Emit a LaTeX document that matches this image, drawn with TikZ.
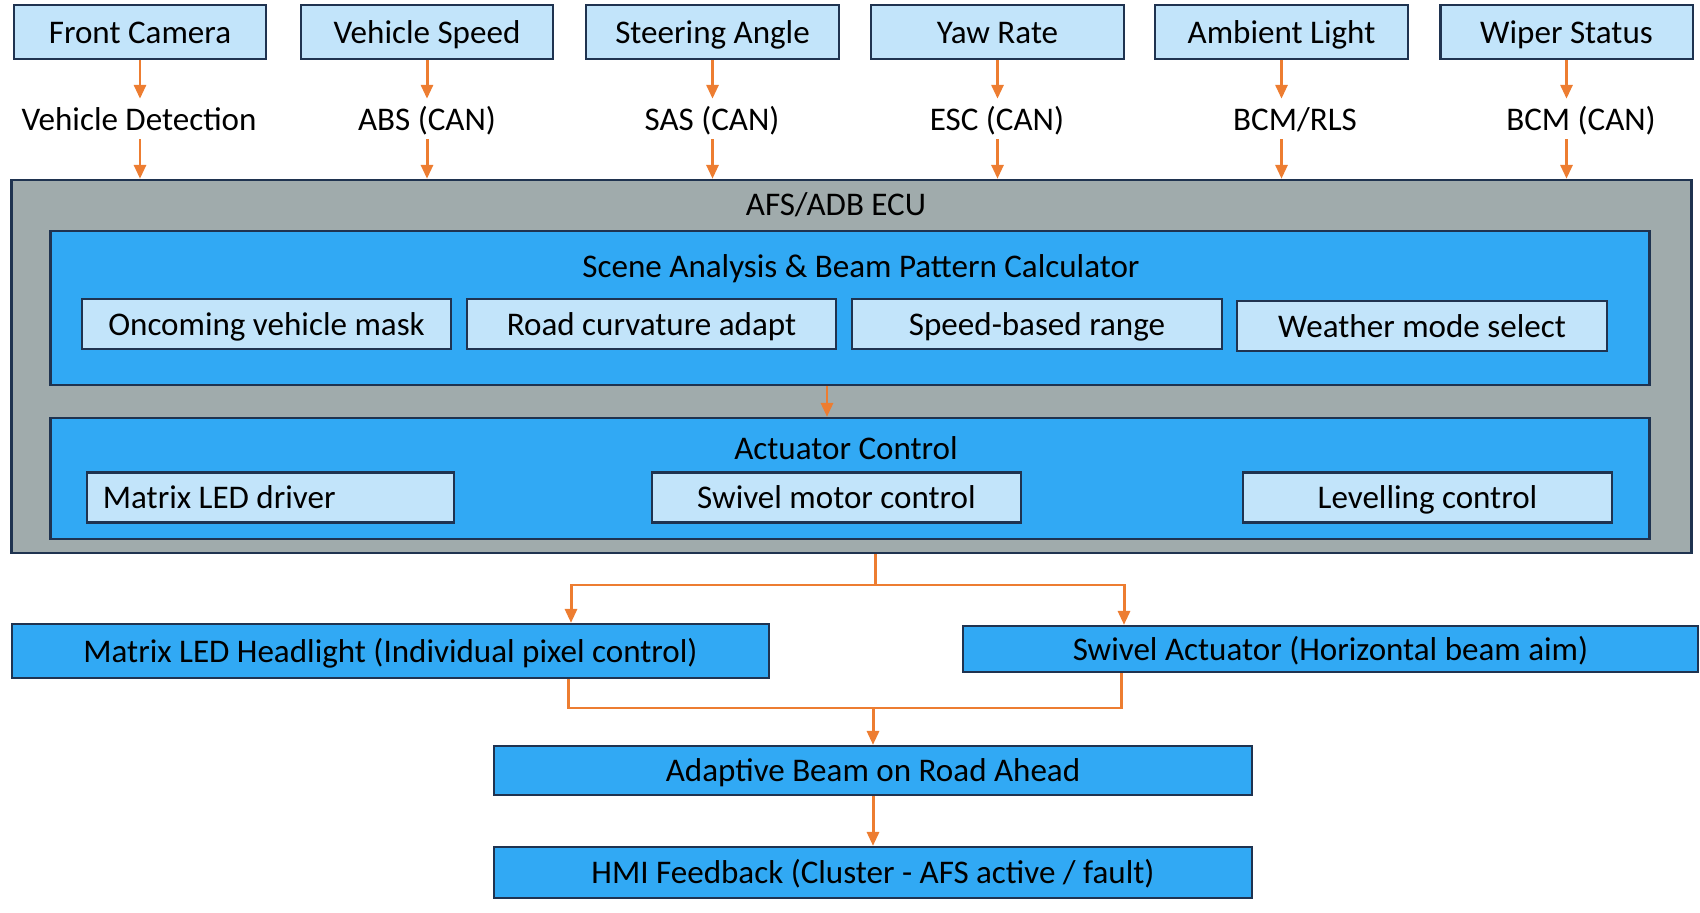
\documentclass[tikz,border=0pt]{standalone}
\usepackage{fontspec}
\setmainfont{Carlito}
\usetikzlibrary{arrows.meta, positioning, calc}
\definecolor{srcblue}{HTML}{C2E4FA}
\definecolor{midblue}{HTML}{31A9F4}
\definecolor{ecugray}{HTML}{A0ABAC}
\definecolor{edgenavy}{HTML}{1F3350}
\definecolor{flow}{HTML}{ED7D31}

\begin{document}
\begin{tikzpicture}[
  x=0.01cm, y=-0.01cm,
  txt/.style={font=\fontsize{9.4}{11}\selectfont, text=black, text height=8.4pt, text depth=2pt},
  src/.style={rectangle, draw=edgenavy, line width=0.6pt, fill=srcblue, minimum width=25.2mm, minimum height=5.4mm, inner sep=0pt, txt},
  bus/.style={rectangle, minimum height=3.9mm, inner sep=0pt, txt},
  ecu/.style={rectangle, draw=edgenavy, line width=0.6pt, fill=ecugray, inner sep=0pt},
  stage/.style={rectangle, draw=edgenavy, line width=0.6pt, fill=midblue, inner sep=0pt},
  func/.style={rectangle, draw=edgenavy, line width=0.6pt, fill=srcblue, minimum width=36.9mm, minimum height=5mm, inner sep=0pt, txt},
  outbox/.style={rectangle, draw=edgenavy, line width=0.6pt, fill=midblue, inner sep=0pt, txt},
  arr/.style={-{Triangle[length=1.4mm, width=1.2mm]}, draw=flow, line width=0.85pt},
  wire/.style={draw=flow, line width=0.85pt},
]
  \useasboundingbox (0,0) rectangle (1700,913);

  % ECU frame
  \node[ecu, minimum width=167.9mm, minimum height=37.3mm] (ecu) at (851.5,366.5) {};
  \node[txt] (ecutitle) at (836,204) {AFS/ADB ECU};

  % Scene analysis
  \node[stage, minimum width=159.8mm, minimum height=15.4mm] (scene) at (850,308) {};
  \node[txt] (scenetitle) at (861,266) {Scene Analysis \& Beam Pattern Calculator};
  \node[func] (mask) at (266.5,324) {Oncoming vehicle mask};
  \node[func] (curve) at (651.5,324) {Road curvature adapt};
  \node[func] (range) at (1037,324) {Speed-based range};
  \node[func] (weather) at (1422,326) {Weather mode select};

  % Actuator control
  \node[stage, minimum width=159.8mm, minimum height=12.1mm] (act) at (850,478.5) {};
  \node[txt] (acttitle) at (846,448) {Actuator Control};
  \node[func, minimum width=0pt, text width=33.5mm, inner xsep=1.6mm, align=flush left] (leddrv) at (270.5,497.5) {Matrix LED driver};
  \node[func] (swivdrv) at (836.5,497.5) {Swivel motor control};
  \node[func] (level) at (1427.5,497.5) {Levelling control};

  \draw[arr] ([xshift=-0.23cm]scene.south) -- ([xshift=-0.23cm]act.north);

  % Inputs
  \foreach \i/\x/\lx/\name/\link in {1/140/139/Front Camera/Vehicle Detection,
      2/427/427/Vehicle Speed/ABS (CAN), 3/712.5/712/Steering Angle/SAS (CAN),
      4/997.5/997/Yaw Rate/ESC (CAN), 5/1281.5/1295/Ambient Light/{BCM/RLS},
      6/1566.5/1581/Wiper Status/BCM (CAN)} {
    \node[src] (src\i) at (\x,32) {\name};
    \node[bus] (bus\i) at (\lx,119) {\link};
    \draw[arr] (src\i) -- (src\i |- bus\i.north);
    \draw[arr] (src\i |- bus\i.south) -- (src\i |- ecu.north);
  }

  % Outputs
  \node[outbox, minimum width=75.7mm, minimum height=5.4mm] (led) at (390.5,651) {Matrix LED Headlight (Individual pixel control)};
  \node[outbox, minimum width=73.5mm, minimum height=4.6mm] (swivel) at (1330.5,649) {Swivel Actuator (Horizontal beam aim)};
  \node[outbox, minimum width=75.8mm, minimum height=4.9mm] (beam) at (873,770.5) {Adaptive Beam on Road Ahead};
  \node[outbox, minimum width=75.8mm, minimum height=5.1mm] (hmi) at (873,872.5) {HMI Feedback (Cluster - AFS active / fault)};

  \coordinate (split) at (875,585);
  \coordinate (merge) at (873,708);
  \draw[wire] (ecu.south -| split) -- (split);
  \draw[arr] (split) -| ($(led.north)+(180.5,0)$);
  \draw[arr] (split) -| ($(swivel.north)+(-206.5,0)$);
  \draw[wire] ($(led.south)+(177.5,0)$) |- (merge);
  \draw[wire] ($(swivel.south)+(-209.5,0)$) |- (merge);
  \draw[arr] (merge) -- (beam);
  \draw[arr] (beam) -- (hmi);

\end{tikzpicture}
\end{document}
